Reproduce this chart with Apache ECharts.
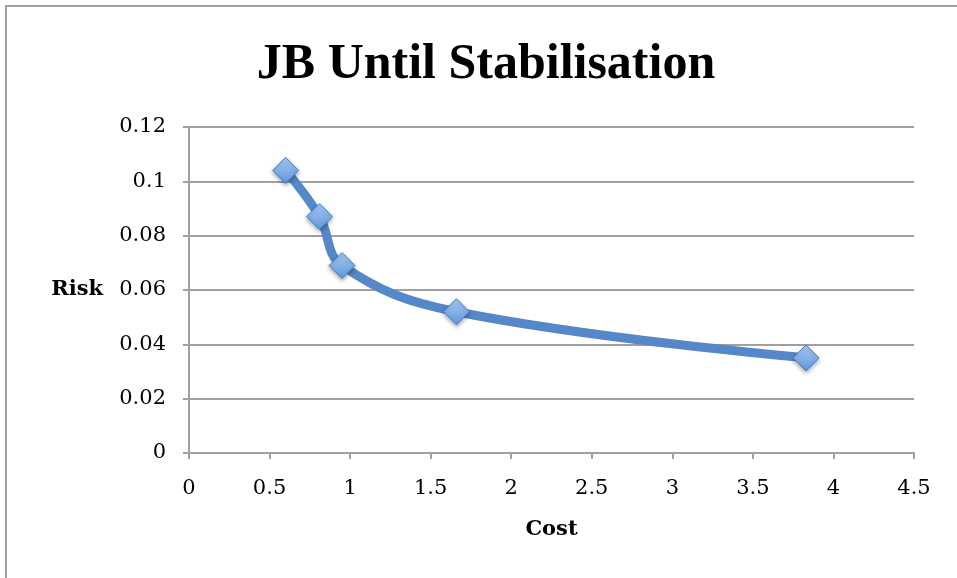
<!DOCTYPE html>
<html>
<head>
<meta charset="utf-8">
<script src="https://cdn.jsdelivr.net/npm/echarts@6/dist/echarts.min.js"></script>
<style>
  html, body { margin: 0; padding: 0; background: #fff; }
  #chart { width: 957px; height: 578px; }
</style>
</head>
<body>
<div id="chart"></div>
<script>
// cost / risk pairs
const costData = [0.60, 0.81, 0.95, 1.66, 3.83]
const riskData = [0.104, 0.087, 0.069, 0.052, 0.035]
const titleText = 'JB Until Stabilisation'

const serif = '"Liberation Serif", "DejaVu Serif", serif'
const wideSerif = '"DejaVu Serif", "Liberation Serif", serif'
const myChart = echarts.init(document.getElementById('chart'))

const option = {
  backgroundColor: '#fff',
  animation: false,
  title: {
    text: titleText,
    left: 481,
    top: 35,
    textAlign: 'center',
    textStyle: { fontFamily: serif, fontSize: 50, fontWeight: 'bold', color: '#000' }
  },
  graphic: [{
    type: 'rect',
    shape: { x: 6, y: 6, width: 1000, height: 1000 },
    style: { fill: 'none', stroke: '#a0a0a0', lineWidth: 2 },
    silent: true
  }],
  grid: { left: 189, right: 43, top: 127, bottom: 125 },
  xAxis: {
    type: 'value',
    min: 0,
    max: 4.5,
    interval: 0.5,
    name: 'Cost',
    nameLocation: 'middle',
    nameGap: 66,
    nameTextStyle: { fontFamily: wideSerif, fontSize: 21, fontWeight: 'bold', color: '#000' },
    axisLine: { show: true, onZero: false, lineStyle: { color: '#a0a0a0', width: 2 } },
    axisTick: { show: true, length: 6, lineStyle: { color: '#a0a0a0', width: 2 } },
    axisLabel: { margin: 25, fontFamily: wideSerif, fontSize: 21, color: '#000' },
    splitLine: { show: false }
  },
  yAxis: {
    type: 'value',
    min: 0,
    max: 0.12,
    interval: 0.02,
    name: 'Risk',
    nameLocation: 'middle',
    nameRotate: 0,
    nameGap: 86,
    nameTextStyle: { fontFamily: wideSerif, fontSize: 21, fontWeight: 'bold', color: '#000', align: 'right', padding: [14, 0, 0, 0] },
    axisLine: { show: true, lineStyle: { color: '#a0a0a0', width: 2 } },
    axisTick: { show: true, length: 6, lineStyle: { color: '#a0a0a0', width: 2 } },
    axisLabel: { margin: 23, fontFamily: wideSerif, fontSize: 21, color: '#000' },
    splitLine: { show: true, lineStyle: { color: '#a0a0a0', width: 2 } }
  },
  series: [{
    type: 'line',
    data: costData.map((c, i) => [c, riskData[i]]),
    smooth: 0.4,
    lineStyle: { color: '#5588c8', width: 9 },
    symbol: 'diamond',
    symbolSize: 26,
    itemStyle: {
      color: new echarts.graphic.LinearGradient(0, 0, 0, 1, [
        { offset: 0, color: '#a9cbf5' },
        { offset: 1, color: '#5f97dc' }
      ]),
      borderColor: '#4a7ec0',
      borderWidth: 1,
      shadowColor: 'rgba(0,0,0,0.35)',
      shadowBlur: 4,
      shadowOffsetY: 2
    },
    z: 3
  }]
}
myChart.setOption(option, true)
</script>
</body>
</html>
